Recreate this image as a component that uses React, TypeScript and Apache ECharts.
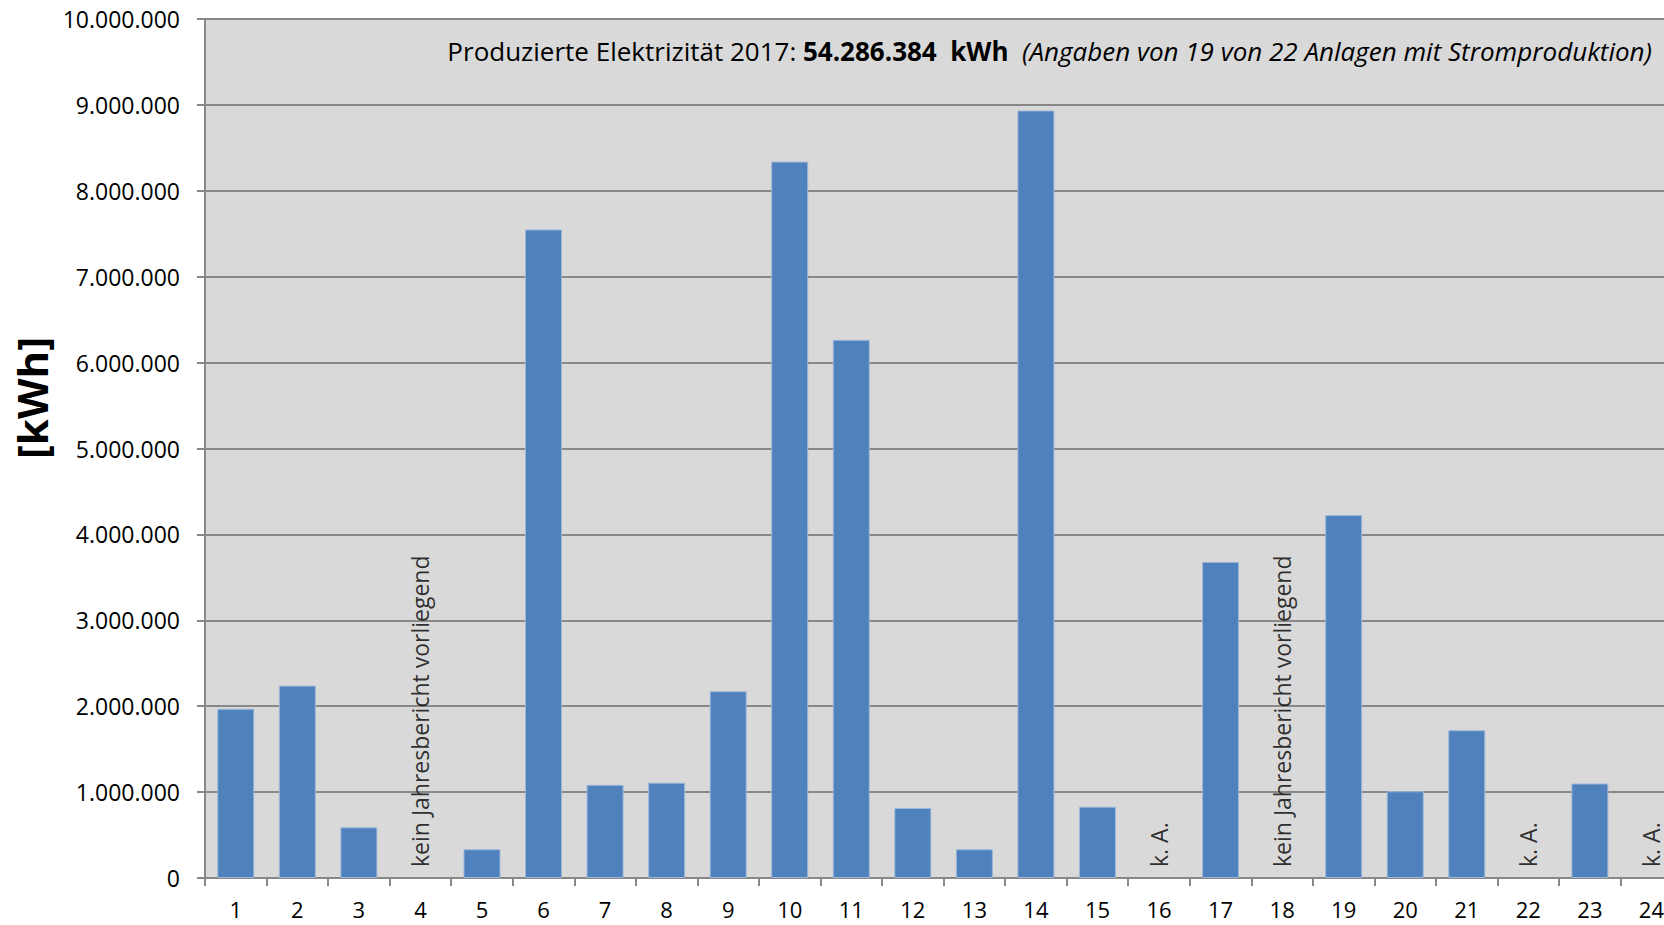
import React, { useEffect, useRef } from "react";
import * as echarts from "echarts";

const categories = ["1","2","3","4","5","6","7","8","9","10","11","12","13","14","15","16","17","18","19","20","21","22","23","24"];
const production: (number | null)[] = [
  1970000, 2240000, 590000, null, 335000, 7550000, 1085000, 1110000, 2175000, 8340000,
  6265000, 815000, 335000, 8935000, 830000, null, 3680000, null, 4225000, 1010000,
  1720000, null, 1100000, null,
];
const notes: (string | null)[] = [
  null, null, null, "kein Jahresbericht vorliegend", null, null, null, null, null, null,
  null, null, null, null, null, "k. A.", null, "kein Jahresbericht vorliegend", null, null,
  null, "k. A.", null, "k. A.",
];
const yTicks = { min: 0, max: 10000000, interval: 1000000 };
const titleMain = "Produzierte Elektrizität 2017: ";
const titleTotal = "54.286.384  kWh";
const titleNote = "(Angaben von 19 von 22 Anlagen mit Stromproduktion)";
const unitLabel = "[kWh]";

const FONT = "'Open Sans', 'Liberation Sans', sans-serif";

function fmt(v: number): string {
  return String(Math.round(v)).replace(/\B(?=(\d{3})+(?!\d))/g, ".");
}

export default function App() {
  const ref = useRef<HTMLDivElement>(null);
  useEffect(() => {
    if (!ref.current) return;
    const chart = echarts.init(ref.current, undefined, { renderer: "svg" });
    const noteData = notes
      .map((n, i) => (n ? { value: [i, 0], note: n } : null))
      .filter((d) => d !== null);
    chart.setOption({
      animation: false,
      backgroundColor: "#ffffff",
      textStyle: { fontFamily: FONT },
      grid: { left: 205, top: 19, width: 24 * 61.55, height: 859, containLabel: false, show: true, backgroundColor: "#D9D9D9", borderWidth: 0 },
      xAxis: {
        type: "category",
        data: categories,
        axisLine: { show: true, lineStyle: { color: "#888888", width: 2 } },
        axisTick: { show: true, length: 8, lineStyle: { color: "#888888", width: 2 }, alignWithLabel: false },
        axisLabel: { color: "#000", fontSize: 22, fontFamily: FONT, margin: 18, lineHeight: 26 },
      },
      yAxis: {
        type: "value",
        min: yTicks.min,
        max: yTicks.max,
        interval: yTicks.interval,
        axisLine: { show: true, lineStyle: { color: "#888888", width: 2 } },
        axisTick: { show: true, length: 8, lineStyle: { color: "#888888", width: 2 } },
        splitLine: { show: true, lineStyle: { color: "#888888", width: 2 } },
        axisLabel: { color: "#000", fontSize: 23, fontFamily: FONT, margin: 25, formatter: (v: number) => fmt(v) },
      },
      series: [
        {
          type: "bar",
          data: production,
          barWidth: 37,
          itemStyle: { color: "#4F81BD", borderColor: "#9DB8DA", borderWidth: 1 },
          z: 3,
        },
        {
          type: "scatter",
          data: noteData,
          symbolSize: 0,
          silent: true,
          z: 4,
          label: {
            show: true,
            position: [0, 0],
            rotate: 90,
            align: "left",
            verticalAlign: "middle",
            offset: [11, 0],
            formatter: (p: any) => p.data.note,
            fontSize: 23,
            fontFamily: FONT,
            color: "#000",
          },
        },
      ],
      graphic: [
        {
          type: "text",
          x: 1652,
          y: 51,
          style: {
            text: titleMain + "{b|" + titleTotal + "}  {i|" + titleNote + "}",
            fill: "#000",
            font: `26px ${FONT}`,
            align: "right",
            verticalAlign: "middle",
            rich: {
              b: { fontWeight: "bold", fontSize: 26, fontFamily: FONT, fill: "#000" },
              i: { fontStyle: "italic", fontSize: 26, fontFamily: FONT, fill: "#000" },
            },
          },
          z: 10,
        },
        {
          type: "text",
          x: 31,
          y: 398,
          rotation: Math.PI / 2,
          style: {
            text: unitLabel,
            fill: "#000",
            font: `bold 42px ${FONT}`,
            align: "center",
            verticalAlign: "middle",
          },
        },
      ],
    });
    return () => chart.dispose();
  }, []);
  return (
    <div style={{ position: "absolute", left: 0, top: 0, width: 1664, height: 925, overflow: "hidden" }}>
      <div ref={ref} style={{ width: 1700, height: 925 }} />
    </div>
  );
}
